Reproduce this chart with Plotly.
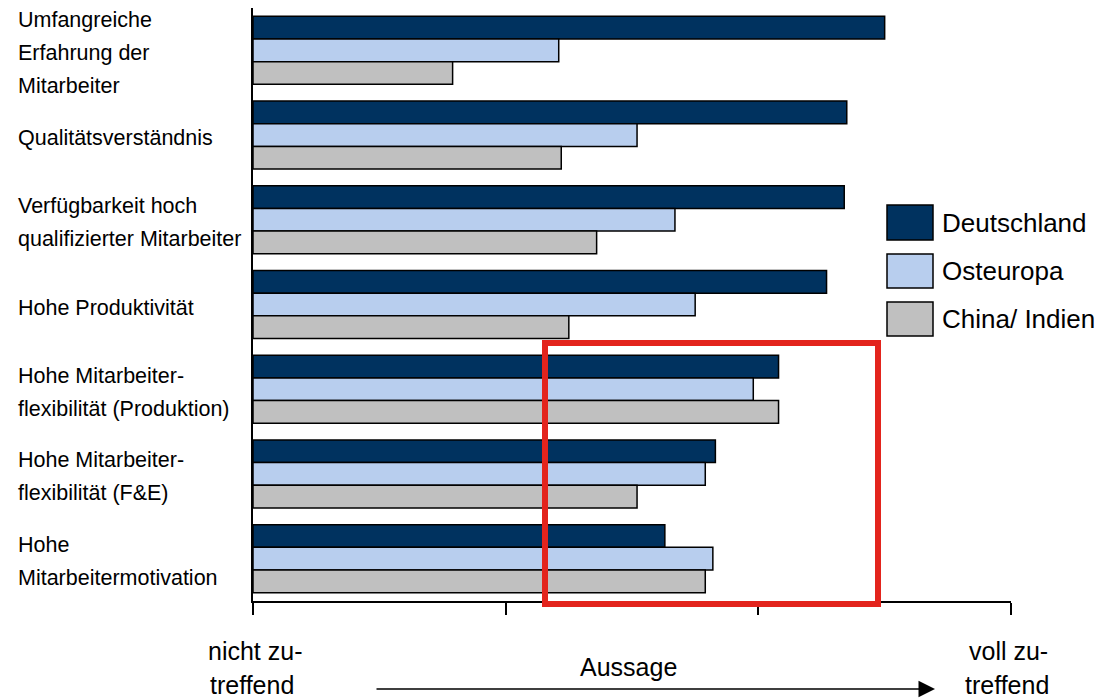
import plotly.graph_objects as go

categories = [
    "Umfangreiche<br>Erfahrung der<br>Mitarbeiter",
    "Qualitätsverständnis",
    "Verfügbarkeit hoch<br>qualifizierter Mitarbeiter",
    "Hohe Produktivität",
    "Hohe Mitarbeiter-<br>flexibilität (Produktion)",
    "Hohe Mitarbeiter-<br>flexibilität (F&E)",
    "Hohe<br>Mitarbeitermotivation",
]
series_names = ["Deutschland", "Osteuropa", "China/ Indien"]
deutschland = [2.50, 2.35, 2.34, 2.27, 2.08, 1.83, 1.63]
osteuropa = [1.21, 1.52, 1.67, 1.75, 1.98, 1.79, 1.82]
china_indien = [0.79, 1.22, 1.36, 1.25, 2.08, 1.52, 1.79]
colors = ["#00325F", "#B8CEEE", "#C0C0C0"]

tick_vals = [0, 1, 2, 3]

FONT = "Liberation Sans, Arial, sans-serif"
L, R, T, B = 253, 89, 8, 98
W, H = 1100, 699
PW, PH = W - L - R, H - T - B

def px_x(p):
    return (p - L) / PW

def px_y(p):
    return (H - B - p) / PH

fig = go.Figure()
for name, vals, col in zip(series_names, [deutschland, osteuropa, china_indien], colors):
    fig.add_trace(go.Bar(
        y=list(range(len(categories))), x=vals, name=name, orientation="h",
        marker=dict(color=col, line=dict(color="#000000", width=1.5)),
        showlegend=False,
    ))

annotations = []
# category labels, left aligned, line by line
for i, cat in enumerate(categories):
    lines = cat.split("<br>")
    n = len(lines)
    for j, line in enumerate(lines):
        annotations.append(dict(
            x=px_x(16), xref="paper", xanchor="left",
            y=i, yref="y", yanchor="middle",
            yshift=((n - 1) / 2 - j) * 33 - 3,
            text=line, showarrow=False, align="left",
            font=dict(family=FONT, size=21.5, color="#000000"),
        ))

# custom legend
shapes = []
legend_rows = [(205, 240), (254, 288), (302, 336)]
for (name, col), (ty, by) in zip(zip(series_names, colors), legend_rows):
    shapes.append(dict(type="rect", xref="paper", yref="paper",
                       x0=px_x(887), x1=px_x(933), y0=px_y(by), y1=px_y(ty),
                       fillcolor=col, line=dict(color="#000000", width=1.5)))
    annotations.append(dict(x=px_x(940), xref="paper", xanchor="left",
                            y=px_y((ty + by) / 2), yref="paper", yanchor="middle",
                            text=name, showarrow=False,
                            font=dict(family=FONT, size=26, color="#000000")))

# red highlight box
shapes.append(dict(type="rect", xref="x", yref="paper",
                   x0=(545 - L) / PW * 3, x1=(878 - L) / PW * 3,
                   y0=px_y(604), y1=px_y(343),
                   line=dict(color="#E3241D", width=6)))

# bottom scale texts
bottom_font = dict(family=FONT, size=25, color="#000000")
for txt, xp, yp in [("nicht zu-", 255, 651), ("treffend", 252, 685),
                    ("voll zu-", 1008, 651), ("treffend", 1007, 685),
                    ("Aussage", 628, 667)]:
    annotations.append(dict(x=px_x(xp), xref="paper", xanchor="center",
                            y=px_y(yp), yref="paper", yanchor="middle",
                            text=txt, showarrow=False, font=bottom_font))

# arrow
annotations.append(dict(x=(935 - L) / PW * 3, xref="x", y=px_y(689), yref="paper",
                        ax=(375 - L) / PW * 3, axref="x", ay=0, ayref="pixel",
                        showarrow=True, arrowhead=2, arrowsize=2.2, arrowwidth=1.5,
                        arrowcolor="#000000", text=""))

fig.update_layout(
    width=W, height=H,
    margin=dict(l=L, r=R, t=T, b=B, pad=0),
    paper_bgcolor="white", plot_bgcolor="white",
    barmode="group", bargap=0.197, bargroupgap=0,
    xaxis=dict(range=[0, 3], tickvals=tick_vals, showticklabels=False,
               ticks="outside", ticklen=12, tickwidth=1.5, tickcolor="#000000",
               showline=True, linecolor="#000000", linewidth=1.5,
               showgrid=False, zeroline=False),
    yaxis=dict(range=[6.5, -0.5], showticklabels=False, ticks="",
               showline=True, linecolor="#000000", linewidth=1.5,
               showgrid=False, zeroline=False),
    shapes=shapes, annotations=annotations,
    font=dict(family=FONT),
)

fig.write_html("out.html")
